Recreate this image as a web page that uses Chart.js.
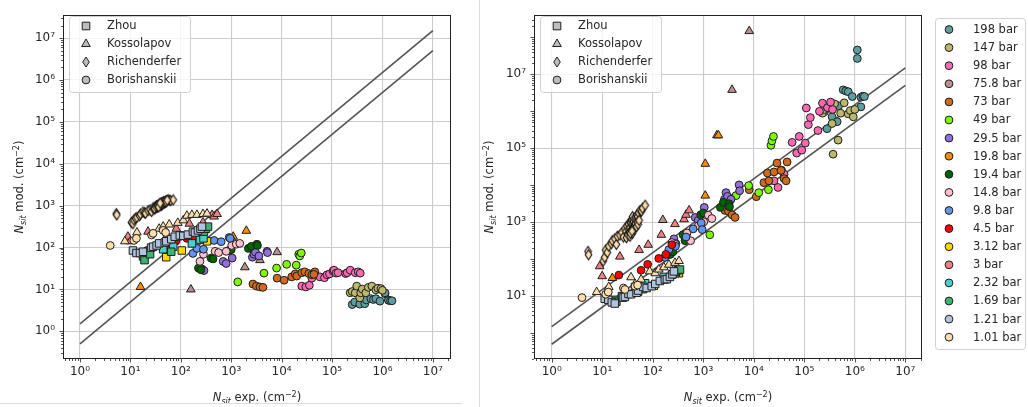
<!DOCTYPE html>
<html>
<head>
<meta charset="utf-8">
<script src="https://cdn.jsdelivr.net/npm/chart.js@4.4.1/dist/chart.umd.min.js"></script>
<style>
  body { margin: 0; background: #fff; width: 1028px; height: 407px; overflow: hidden; position: relative; }
  canvas { position: absolute; top: 0; }
  .sep { position: absolute; background: #dedede; }
</style>
</head>
<body>
<canvas id="chartIzq" width="470" height="407" style="left:0"></canvas>
<canvas id="chartDer" width="558" height="407" style="left:470px"></canvas>
<div class="sep" style="left:479px;top:0;width:1px;height:407px"></div>
<div class="sep" style="left:0;top:403px;width:462px;height:1px"></div>
<script>
// ejes (exponentes de 10)
const decadasX = [0, 1, 2, 3, 4, 5, 6, 7];
const etiquetasX = ['10⁰', '10¹', '10²', '10³', '10⁴', '10⁵', '10⁶', '10⁷'];
const decadasYIzq = [0, 1, 2, 3, 4, 5, 6, 7];
const etiquetasYIzq = ['10⁰', '10¹', '10²', '10³', '10⁴', '10⁵', '10⁶', '10⁷'];
const decadasYDer = [1, 3, 5, 7];
const etiquetasYDer = ['10¹', '10³', '10⁵', '10⁷'];
const limXIzq = [-0.337, 7.36], limYIzq = [-0.66, 7.547];
const limXDer = [-0.35, 7.33], limYDer = [-0.70, 8.60];

// rectas de referencia (1.5x y 0.5x)
const rectaX = [1, 1e7];
const rectaSup = [1.5, 1.5e7];
const rectaInf = [0.5, 5e6];

const fuentes = ['Zhou', 'Kossolapov', 'Richenderfer', 'Borishanskii'];
const formasFuentes = ['rect', 'triangle', 'rombo', 'circle'];

// datos: log10(N exp), log10(N mod izq), log10(N mod der)
const x_198bar = [5.40, 5.45, 5.55, 5.65, 5.68, 5.77, 5.82, 5.87, 5.95, 6.05, 6.05, 6.12, 6.12, 6.16, 6.19];
const izq_198bar = [0.64, 0.70, 0.65, 0.66, 0.75, 0.78, 0.76, 0.78, 0.72, 0.90, 0.92, 0.75, 0.74, 0.73, 0.73];
const der_198bar = [5.99, 5.53, 5.85, 5.72, 6.15, 6.58, 6.55, 6.53, 6.40, 7.66, 7.43, 6.38, 6.12, 6.41, 6.40];

const x_147bar = [5.36, 5.40, 5.46, 5.49, 5.55, 5.57, 5.60, 5.67, 5.72, 5.79, 5.87, 5.91, 5.97, 6.00];
const izq_147bar = [0.92, 0.95, 0.92, 1.08, 0.80, 0.92, 1.01, 0.92, 1.05, 1.08, 0.99, 1.03, 1.02, 0.98];
const der_147bar = [5.95, 6.05, 6.10, 6.15, 5.67, 4.84, 6.20, 5.22, 5.95, 6.23, 5.93, 6.02, 5.85, 6.05];

const x_98bar = [4.40, 4.48, 4.55, 4.60, 4.76, 4.85, 4.90, 4.95, 5.02, 5.04, 5.08, 5.12, 5.27, 5.30, 5.36, 5.46, 5.52, 5.56];
const izq_98bar = [1.08, 1.06, 1.10, 1.27, 1.30, 1.28, 1.35, 1.37, 1.44, 1.46, 1.39, 1.40, 1.38, 1.40, 1.46, 1.40, 1.42, 1.39];
const der_98bar = [4.12, 3.94, 4.41, 4.30, 5.16, 4.87, 5.32, 4.95, 5.14, 6.09, 5.64, 5.83, 5.48, 6.00, 6.22, 6.10, 6.25, 6.05];

const x_75p8bar = [2.20, 3.27, 3.57, 3.91];
const izq_75p8bar = [1.00, 1.53, 1.70, 1.89];
const der_75p8bar = [3.06, 5.35, 6.58, 8.17];

const x_73bar = [3.43, 3.50, 3.57, 3.63, 3.91, 4.05, 4.20, 4.27, 4.30, 4.40, 4.46, 4.54, 4.60, 4.66, 4.64];
const izq_73bar = [1.13, 1.08, 1.06, 1.05, 1.27, 1.22, 1.30, 1.37, 1.32, 1.40, 1.42, 1.38, 1.35, 1.42, 1.36];
const der_73bar = [3.32, 3.30, 3.20, 3.13, 3.88, 3.69, 4.07, 4.33, 4.12, 4.36, 4.60, 4.40, 4.18, 4.63, 4.12];

const x_49bar = [3.13, 3.65, 3.90, 4.29, 4.10, 4.34, 4.36, 4.39];
const izq_49bar = [1.18, 1.39, 1.51, 1.58, 1.60, 1.84, 1.80, 1.87];
const der_49bar = [2.66, 3.72, 3.99, 3.88, 3.80, 5.08, 5.20, 5.32];

const x_29p5bar = [2.42, 2.46, 2.84, 2.90, 3.02, 3.42, 3.45, 3.48, 3.55, 3.71, 3.72];
const izq_29p5bar = [1.49, 1.45, 1.67, 1.62, 1.75, 1.77, 1.84, 1.89, 1.80, 1.91, 1.88];
const der_29p5bar = [2.55, 2.42, 3.13, 3.05, 3.40, 3.62, 3.80, 3.70, 3.62, 4.01, 3.85];

const x_19p8bar = [1.20, 3.04, 3.04, 3.30];
const izq_19p8bar = [1.06, 2.26, 2.15, 2.40];
const der_19p8bar = [1.49, 3.72, 4.58, 5.35];

const x_19p4bar = [2.35, 2.40, 2.60, 2.64, 2.95, 3.00, 3.34, 3.40, 3.51, 3.52];
const izq_19p4bar = [1.51, 1.47, 1.75, 1.73, 1.93, 1.95, 1.98, 2.03, 2.08, 2.05];
const der_19p4bar = [2.13, 2.20, 2.66, 2.50, 3.20, 3.25, 3.40, 3.54, 3.50, 3.42];

const x_14p8bar = [2.38, 2.45, 2.68, 2.75, 2.90, 3.01, 3.10, 3.17];
const izq_14p8bar = [1.67, 1.84, 1.91, 1.88, 1.91, 2.05, 2.08, 2.10];
const der_14p8bar = [2.45, 2.40, 2.71, 2.50, 2.90, 3.01, 3.19, 3.10];

const x_9p8bar = [2.24, 2.32, 2.45, 2.66, 2.80, 2.96, 2.98];
const izq_9p8bar = [1.86, 1.98, 1.96, 2.17, 2.14, 2.24, 2.22];
const der_9p8bar = [2.05, 2.26, 2.35, 2.60, 2.82, 2.98, 2.80];

const x_4p5bar = [1.33, 1.77, 1.90, 2.12, 2.26, 2.38];
const izq_4p5bar = [1.93, 2.05, 2.15, 2.22, 2.26, 2.36];
const der_4p5bar = [1.57, 1.70, 1.86, 2.02, 2.13, 2.39];

const x_3p12bar = [1.71, 2.02, 2.52];
const izq_3p12bar = [1.77, 1.93, 2.15];
const der_3p12bar = [1.12, 1.28, 1.62];

const x_3bar = [0.95, 1.00, 1.35, 1.73, 1.91, 2.17, 2.44, 2.62, 2.66, 2.72];
const izq_3bar = [2.26, 2.15, 2.38, 2.30, 2.45, 2.57, 2.60, 2.78, 2.74, 2.80];
const der_3bar = [1.81, 1.54, 2.07, 2.25, 2.39, 2.66, 2.95, 3.08, 3.20, 3.32];

const x_2p32bar = [1.65, 1.85, 2.22, 2.38, 2.45];
const izq_2p32bar = [1.96, 2.02, 2.10, 2.19, 2.22];
const der_2p32bar = [1.25, 1.35, 1.52, 1.58, 1.62];

const x_1p69bar = [1.25, 1.28, 1.39, 1.81, 2.46, 2.50, 2.54];
const izq_1p69bar = [1.79, 1.70, 1.84, 1.90, 2.38, 2.45, 2.50];
const der_1p69bar = [0.90, 0.85, 1.00, 1.19, 1.66, 1.70, 1.72];

const x_1p21bar = [1.05, 1.12, 1.19, 1.25, 1.41, 1.45, 1.52, 1.57, 1.68, 1.71, 1.81, 1.88, 1.98, 2.05, 2.14, 2.24, 2.28, 2.34, 2.39, 2.42];
const izq_1p21bar = [1.93, 1.87, 1.87, 1.90, 2.00, 2.02, 2.05, 2.10, 2.12, 2.15, 2.20, 2.26, 2.29, 2.28, 2.31, 2.38, 2.36, 2.41, 2.45, 2.50];
const der_1p21bar = [0.93, 0.90, 0.83, 0.80, 0.96, 0.98, 1.06, 1.05, 1.09, 1.15, 1.25, 1.22, 1.27, 1.33, 1.41, 1.45, 1.46, 1.52, 1.59, 1.67];

// 1.01 bar: Kossolapov (triangulos), Richenderfer (rombos), Borishanskii (circulos)
const x_1p01tri = [0.89, 1.13, 1.57, 1.65, 1.77, 1.94, 2.05, 2.12, 2.22, 2.32, 2.44, 2.52];
const izq_1p01tri = [2.15, 2.36, 2.45, 2.50, 2.55, 2.59, 2.65, 2.76, 2.78, 2.78, 2.80, 2.81];
const der_1p01tri = [1.11, 1.25, 1.51, 1.33, 1.45, 1.67, 1.62, 1.72, 1.78, 1.85, 1.90, 1.95];

const x_1p01rom = [0.72, 0.73, 1.02, 1.05, 1.07, 1.10, 1.13, 1.18, 1.20, 1.25, 1.28, 1.30, 1.35, 1.39, 1.42, 1.45, 1.47, 1.49, 1.50, 1.52,
  1.53, 1.55, 1.56, 1.57, 1.58, 1.59, 1.60, 1.61, 1.62, 1.63, 1.64, 1.66, 1.67, 1.69, 1.70, 1.72, 1.75, 1.78, 1.80, 1.85,
  1.48, 1.51, 1.54, 1.55, 1.58, 1.60, 1.62, 1.63, 1.65, 1.66, 1.68, 1.70, 1.71, 1.73, 1.56, 1.59];
const izq_1p01rom = [2.81, 2.78, 2.60, 2.57, 2.66, 2.70, 2.72, 2.76, 2.80, 2.85, 2.83, 2.82, 2.88, 2.90, 2.86, 2.95, 2.92, 2.97, 2.94, 3.00,
  2.96, 2.98, 3.02, 3.02, 3.03, 3.04, 3.05, 3.00, 3.04, 3.06, 3.07, 3.08, 3.06, 3.10, 3.08, 3.12, 3.14, 3.13, 3.12, 3.14,
  2.93, 2.97, 2.99, 3.01, 3.00, 3.02, 3.07, 3.03, 3.06, 3.10, 3.08, 3.11, 3.09, 3.13, 2.97, 3.06];
const der_1p01rom = [2.21, 2.12, 1.95, 2.05, 2.25, 2.18, 2.35, 2.42, 2.50, 2.55, 2.40, 2.62, 2.65, 2.72, 2.60, 2.82, 2.75, 2.90, 2.68, 2.95,
  2.80, 2.85, 2.98, 3.00, 3.08, 3.05, 3.15, 2.95, 3.02, 3.10, 2.92, 3.12, 3.05, 3.20, 3.15, 3.25, 3.32, 3.30, 3.38, 3.46,
  2.58, 2.66, 2.72, 2.62, 2.78, 2.70, 2.86, 2.80, 2.90, 2.96, 2.88, 3.00, 2.94, 3.05, 2.70, 2.76];

const x_1p01cir = [0.60, 1.07, 1.12, 1.42, 1.45, 1.65, 1.70];
const izq_1p01cir = [2.05, 2.17, 2.22, 2.30, 2.34, 2.41, 2.36];
const der_1p01cir = [0.96, 1.05, 1.11, 1.22, 1.18, 1.27, 1.30];

const presiones = ['198 bar', '147 bar', '98 bar', '75.8 bar', '73 bar', '49 bar', '29.5 bar', '19.8 bar', '19.4 bar',
  '14.8 bar', '9.8 bar', '4.5 bar', '3.12 bar', '3 bar', '2.32 bar', '1.69 bar', '1.21 bar', '1.01 bar'];
const coloresPresion = ['#5F9EA0', '#BDB76B', '#FF69B4', '#BC8F8F', '#D2691E', '#7CFC00', '#9370DB', '#FF8C00', '#006400',
  '#FFC0CB', '#6495ED', '#FF0000', '#FFD700', '#F08080', '#48D1CC', '#3CB371', '#B0C4DE', '#FFDEAD'];

// rombo fino (marcador 'd' de matplotlib)
const crearRombo = (color) => {
  const c = document.createElement('canvas');
  c.width = 9; c.height = 13;
  const g = c.getContext('2d');
  g.beginPath();
  g.moveTo(4.5, 1.5); g.lineTo(7.8, 6.5); g.lineTo(4.5, 11.5); g.lineTo(1.2, 6.5); g.closePath();
  g.fillStyle = color; g.fill();
  g.lineWidth = 1.1; g.strokeStyle = '#111'; g.stroke();
  return c;
};

const grupos = [
  ['198 bar', 'circle', x_198bar, izq_198bar, der_198bar],
  ['147 bar', 'circle', x_147bar, izq_147bar, der_147bar],
  ['98 bar', 'circle', x_98bar, izq_98bar, der_98bar],
  ['75.8 bar', 'triangle', x_75p8bar, izq_75p8bar, der_75p8bar],
  ['73 bar', 'circle', x_73bar, izq_73bar, der_73bar],
  ['49 bar', 'circle', x_49bar, izq_49bar, der_49bar],
  ['29.5 bar', 'circle', x_29p5bar, izq_29p5bar, der_29p5bar],
  ['19.8 bar', 'triangle', x_19p8bar, izq_19p8bar, der_19p8bar],
  ['19.4 bar', 'circle', x_19p4bar, izq_19p4bar, der_19p4bar],
  ['14.8 bar', 'circle', x_14p8bar, izq_14p8bar, der_14p8bar],
  ['9.8 bar', 'circle', x_9p8bar, izq_9p8bar, der_9p8bar],
  ['4.5 bar', 'circle', x_4p5bar, izq_4p5bar, der_4p5bar],
  ['3.12 bar', 'rect', x_3p12bar, izq_3p12bar, der_3p12bar],
  ['3 bar', 'triangle', x_3bar, izq_3bar, der_3bar],
  ['2.32 bar', 'rect', x_2p32bar, izq_2p32bar, der_2p32bar],
  ['1.69 bar', 'rect', x_1p69bar, izq_1p69bar, der_1p69bar],
  ['1.21 bar', 'rect', x_1p21bar, izq_1p21bar, der_1p21bar],
  ['1.01 bar', 'triangle', x_1p01tri, izq_1p01tri, der_1p01tri],
  ['1.01 bar', 'circle', x_1p01cir, izq_1p01cir, der_1p01cir],
  ['1.01 bar', 'rombo', x_1p01rom, izq_1p01rom, der_1p01rom]
];

const radios = { circle: 3.9, rect: 5.3, triangle: 5.0, rombo: 5 };

const construirDatasets = (lado) => {
  const sets = grupos.map((g, i) => {
    const color = coloresPresion[presiones.indexOf(g[0])];
    const ys = lado === 'izq' ? g[3] : g[4];
    return {
      type: 'scatter',
      label: g[0],
      data: g[2].map((v, k) => ({ x: Math.pow(10, v), y: Math.pow(10, ys[k]) })),
      pointStyle: g[1] === 'rombo' ? crearRombo(color) : g[1],
      pointRadius: radios[g[1]],
      pointBackgroundColor: color,
      pointBorderColor: '#1e1e1e',
      pointBorderWidth: 1,
      order: grupos.length - i + 2
    };
  });
  [rectaSup, rectaInf].forEach(r => {
    sets.push({
      type: 'line',
      label: '',
      data: rectaX.map((v, k) => ({ x: v, y: r[k] })),
      borderColor: '#555555',
      borderWidth: 1.6,
      pointRadius: 0,
      fill: false,
      order: 100
    });
  });
  return sets;
};

const ticksLog = (lim, decadas) => {
  const out = [];
  for (let d = Math.floor(lim[0]); d <= Math.ceil(lim[1]); d++) {
    for (let m = 1; m <= 9; m++) {
      const e = d + Math.log10(m);
      if (e < lim[0] || e > lim[1]) continue;
      out.push({ value: m * Math.pow(10, d), major: m === 1 && decadas.includes(d), decada: m === 1 });
    }
  }
  return out;
};

const escala = (lim, decadas, etiquetas, pos, grosor) => ({
  type: 'logarithmic',
  position: pos,
  min: Math.pow(10, lim[0]),
  max: Math.pow(10, lim[1]),
  afterBuildTicks: s => { s.ticks = ticksLog(lim, decadas); },
  afterFit: s => { if (pos === 'left') s.width = grosor; else s.height = grosor; },
  grid: {
    color: c => (c.tick && c.tick.major) ? '#cbcbcb' : 'rgba(0,0,0,0)',
    lineWidth: 1.1,
    drawTicks: false
  },
  border: { display: false },
  ticks: {
    autoSkip: false, maxRotation: 0, minRotation: 0,
    padding: pos === 'left' ? 8 : 6,
    color: '#262626',
    font: { family: 'DejaVu Sans', size: 12 },
    callback: (v, i, t) => {
      if (!t[i] || !t[i].major) return '';
      return etiquetas[decadas.indexOf(Math.round(Math.log10(v)))];
    }
  }
});

// marcas de los ejes y marco
const marcasPlugin = {
  id: 'marcas',
  afterDraw(chart) {
    const ctx = chart.ctx, a = chart.chartArea;
    const xs = chart.scales.x, ys = chart.scales.y;
    ctx.save();
    ctx.strokeStyle = '#262626';
    ctx.lineWidth = 0.8;
    xs.ticks.forEach(t => {
      const px = Math.round(xs.getPixelForValue(t.value)) + 0.5;
      ctx.beginPath(); ctx.moveTo(px, a.bottom); ctx.lineTo(px, a.bottom + (t.decada ? 3.5 : 2)); ctx.stroke();
    });
    ys.ticks.forEach(t => {
      const py = Math.round(ys.getPixelForValue(t.value)) + 0.5;
      ctx.beginPath(); ctx.moveTo(a.left, py); ctx.lineTo(a.left - (t.decada ? 3.5 : 2), py); ctx.stroke();
    });
    ctx.lineWidth = 1;
    ctx.strokeStyle = '#222';
    ctx.strokeRect(Math.round(a.left) + 0.5, Math.round(a.top) + 0.5, Math.round(a.right - a.left) - 1, Math.round(a.bottom - a.top) - 1);
    ctx.restore();
  }
};

// titulos de ejes con subindice y superindice
const dibujarTitulo = (ctx, texto, x, y, rotar) => {
  const partes = [
    { t: 'N', f: 'italic 11.5px "DejaVu Sans"', dy: 0 },
    { t: 'sit', f: 'italic 8px "DejaVu Sans"', dy: 3 },
    { t: ' ' + texto + ' (cm', f: '11.5px "DejaVu Sans"', dy: 0 },
    { t: '−2', f: '8px "DejaVu Sans"', dy: -4.5 },
    { t: ')', f: '11.5px "DejaVu Sans"', dy: 0 }
  ];
  ctx.save();
  let ancho = 0;
  partes.forEach(p => { ctx.font = p.f; p.w = ctx.measureText(p.t).width; ancho += p.w; });
  ctx.translate(x, y);
  if (rotar) ctx.rotate(-Math.PI / 2);
  ctx.fillStyle = '#262626';
  ctx.textBaseline = 'alphabetic';
  let cx = -ancho / 2;
  partes.forEach(p => { ctx.font = p.f; ctx.fillText(p.t, cx, p.dy); cx += p.w; });
  ctx.restore();
};

const titulosPlugin = {
  id: 'titulos',
  afterDraw(chart) {
    const a = chart.chartArea;
    dibujarTitulo(chart.ctx, 'exp.', (a.left + a.right) / 2, 401, false);
    dibujarTitulo(chart.ctx, 'mod.', 23, (a.top + a.bottom) / 2, true);
  }
};

const dibujarMarcador = (ctx, forma, x, y, color) => {
  ctx.save();
  ctx.fillStyle = color;
  ctx.strokeStyle = '#1e1e1e';
  ctx.lineWidth = 1;
  ctx.beginPath();
  if (forma === 'circle') {
    ctx.arc(x, y, 3.9, 0, Math.PI * 2);
  } else if (forma === 'rect') {
    ctx.rect(x - 3.8, y - 3.8, 7.6, 7.6);
  } else if (forma === 'triangle') {
    ctx.moveTo(x, y - 5); ctx.lineTo(x + 4.3, y + 2.5); ctx.lineTo(x - 4.3, y + 2.5); ctx.closePath();
  } else {
    ctx.moveTo(x, y - 5); ctx.lineTo(x + 3.3, y); ctx.lineTo(x, y + 5); ctx.lineTo(x - 3.3, y); ctx.closePath();
  }
  ctx.fill();
  ctx.stroke();
  ctx.restore();
};

const cajaLeyenda = (ctx, x, y, w, h) => {
  ctx.save();
  ctx.fillStyle = 'rgba(255,255,255,0.8)';
  ctx.strokeStyle = '#d0d0d0';
  ctx.lineWidth = 1;
  ctx.beginPath();
  ctx.roundRect(x + 0.5, y + 0.5, w, h, 3);
  ctx.fill();
  ctx.stroke();
  ctx.restore();
};

const leyendasPlugin = {
  id: 'leyendas',
  afterDraw(chart, args, opts) {
    const ctx = chart.ctx, a = chart.chartArea;
    const bx = a.left + 6, by = 16;
    cajaLeyenda(ctx, bx, by, 121, 76);
    ctx.save();
    ctx.font = '11.5px "DejaVu Sans"';
    ctx.fillStyle = '#262626';
    ctx.textBaseline = 'middle';
    fuentes.forEach((f, i) => {
      const y = by + 10 + i * 18;
      dibujarMarcador(ctx, formasFuentes[i], bx + 17, y, '#bdbdbd');
      ctx.fillText(f, bx + 38, y + 0.5);
    });
    ctx.restore();
    if (opts.presiones) {
      cajaLeyenda(ctx, 465, 18, 90, 331);
      ctx.save();
      ctx.font = '11.5px "DejaVu Sans"';
      ctx.fillStyle = '#262626';
      ctx.textBaseline = 'middle';
      presiones.forEach((p, i) => {
        const y = 29.5 + i * 18.1;
        dibujarMarcador(ctx, 'circle', 479, y, coloresPresion[i]);
        ctx.fillText(p, 503, y + 0.5);
      });
      ctx.restore();
    }
  }
};

const crearGrafica = (id, lado, limX, limY, decY, etiqY, padding, conPresiones) => {
  return new Chart(document.getElementById(id), {
    data: { datasets: construirDatasets(lado) },
    options: {
      responsive: false,
      animation: false,
      devicePixelRatio: 1,
      events: [],
      layout: { padding: padding },
      plugins: {
        legend: { display: false },
        tooltip: { enabled: false },
        leyendas: { presiones: conPresiones }
      },
      scales: {
        x: escala(limX, decadasX, etiquetasX, 'bottom', 48),
        y: escala(limY, decY, etiqY, 'left', padding.yAncho)
      }
    },
    plugins: [marcasPlugin, titulosPlugin, leyendasPlugin]
  });
};

crearGrafica('chartIzq', 'izq', limXIzq, limYIzq, decadasYIzq, etiquetasYIzq,
  { left: 0, right: 19, top: 11, bottom: 0, yAncho: 63 }, false);
crearGrafica('chartDer', 'der', limXDer, limYDer, decadasYDer, etiquetasYDer,
  { left: 0, right: 106, top: 10, bottom: 0, yAncho: 64 }, true);
</script>
</body>
</html>
